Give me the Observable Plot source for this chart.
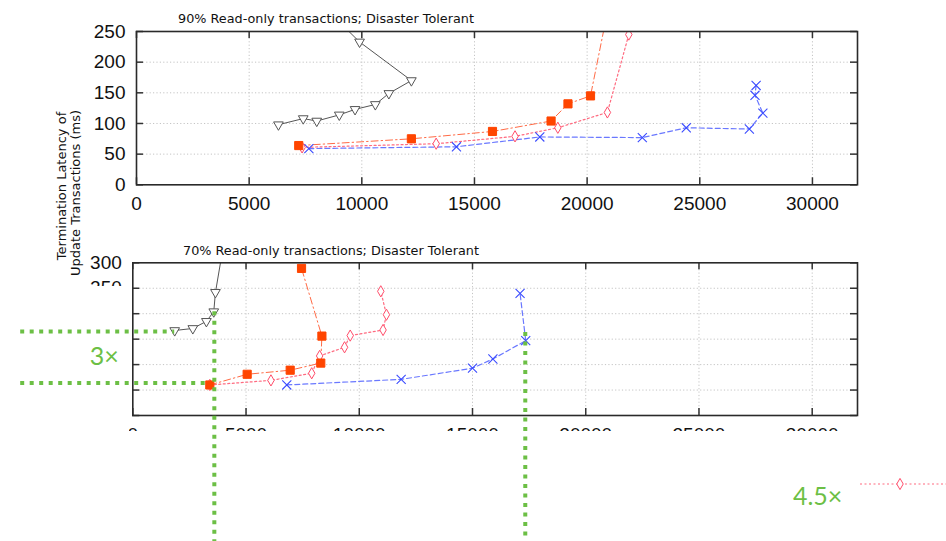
<!DOCTYPE html>
<html><head><meta charset="utf-8">
<script src="https://cdn.jsdelivr.net/npm/d3@7"></script>
<script src="https://cdn.jsdelivr.net/npm/@observablehq/plot@0.6"></script>
<style>
body{margin:0;background:#fff;}
#wrap{position:relative;width:946px;height:541px;overflow:hidden;background:#fff;}
#wrap > svg, #wrap > div {position:absolute;left:0;}
</style></head><body><div id="wrap"></div>
<script>
// ---------- data ----------
const xTicks = [0, 5000, 10000, 15000, 20000, 25000, 30000];
const yTicksTop = [0, 50, 100, 150, 200, 250];
const yTicksBottom = [0, 50, 100, 150, 200, 250, 300];
const yLabelsBottom = [250, 300]; // the other labels of the lower panel are hidden in the source
const titleTop = "90% Read-only transactions; Disaster Tolerant";
const titleBottom = "70% Read-only transactions; Disaster Tolerant";
const yTitle1 = "Termination Latency of";
const yTitle2 = "Update Transactions (ms)";

// 90% read-only panel
const t90_black_x = [6300, 7400, 8000, 9000, 9700, 10600, 11200, 12200, 9900, 8600];
const t90_black_y = [98, 108, 104, 114, 123, 131, 149, 170, 233, 280];
const t90_red_x   = [7200, 12200, 15800, 18400, 19150, 20150, 21000];
const t90_red_y   = [64, 75, 87, 104, 132, 145, 300];
const t90_pink_x  = [7350, 13300, 16800, 18700, 20900, 21850];
const t90_pink_y  = [61, 67, 79, 93, 118, 245];
const t90_blue_x  = [7650, 14200, 17900, 22450, 24400, 27200, 27800, 27450, 27500];
const t90_blue_y  = [59, 62, 78, 77, 93, 91, 117, 146, 162];

// 70% read-only panel
const t70_black_x = [1850, 2650, 3250, 3575, 3650, 4100];
const t70_black_y = [167, 171, 185, 204, 242, 360];
const t70_red_x   = [3400, 5050, 6950, 8300, 8350, 7450];
const t70_red_y   = [60, 81, 89, 103, 156, 289];
const t70_pink_x  = [3400, 6100, 7900, 8250, 9350, 9600, 11050, 11200, 10950];
const t70_pink_y  = [60, 69, 83, 117, 134, 157, 168, 198, 244];
const t70_blue_x  = [6800, 11850, 15000, 15900, 17350, 17100];
const t70_blue_y  = [60, 71, 93, 111, 147, 240];

// annotation (in 70% panel data units)
const annoLevelY = [165, 64];
const annoLevelX1 = [1850, 3400];
const annoLevelX0 = -4950;
const annoDropX = [3600, 17330];
const annoDropY1 = [204, 163];
const annoDropY2 = -250;
const annoLabels = ["3×", "4.5×"];
const annoLabelX = [-1260, 30240];
const annoLabelY = [114.5, -161];

// ---------- styles ----------
const styles = {
  black: {line: {stroke: "#555", strokeWidth: 1}, dot: {symbol: "triangle", rotate: 180, r: 3.6, stroke: "#555", fill: "white", strokeWidth: 1}},
  red:   {line: {stroke: "#ff6a45", strokeWidth: 1, strokeDasharray: "7,3,1.5,3"}, dot: {symbol: "square", r: 4.6, stroke: "#ff4500", fill: "#ff4500", strokeWidth: 1}},
  pink:  {line: {stroke: "#ff6b80", strokeWidth: 1.2, strokeDasharray: "2,2.5"}, dot: {symbol: "diamond", r: 3.4, stroke: "#ff4d6a", fill: "white", strokeWidth: 1}},
  blue:  {line: {stroke: "#6a78ff", strokeWidth: 1.2, strokeDasharray: "5,3"}, dot: {symbol: "times", r: 4.2, stroke: "#3b4cff", strokeWidth: 1.1}}
};
const lineOrder = ["black", "red", "pink", "blue"];
const dotOrder = ["black", "blue", "pink", "red"];
const zip = (xs, ys) => xs.map((x, i) => ({x, y: ys[i]}));

function panel({height, ml, mr, mt, mb, yMax, yTicks, yLabels, series}) {
  const W = 946 - ml - mr, H = height - mt - mb;
  const marks = [
    Plot.ruleX(xTicks.filter(d => d > 0), {x: d => d, stroke: "#c4c4c4", strokeDasharray: "1.2,2.2", strokeWidth: 1}),
    Plot.ruleY(yTicks.filter(d => d > 0 && d < yMax), {y: d => d, stroke: "#c4c4c4", strokeDasharray: "1.2,2.2", strokeWidth: 1})
  ];
  for (const name of lineOrder) {
    marks.push(Plot.line(series[name], {x: "x", y: "y", clip: true, ...styles[name].line}));
  }
  for (const name of dotOrder) {
    marks.push(Plot.dot(series[name].filter(d => d.y <= yMax), {x: "x", y: "y", clip: true, ...styles[name].dot}));
  }
  const tk = {stroke: "#333", strokeWidth: 1.5};
  marks.push(
    Plot.tickX(xTicks, {x: d => d, insetTop: H - 7, ...tk}),
    Plot.tickX(xTicks, {x: d => d, insetBottom: H - 7, ...tk}),
    Plot.tickY(yTicks, {y: d => d, insetRight: W - 7, ...tk}),
    Plot.tickY(yTicks, {y: d => d, insetLeft: W - 7, ...tk}),
    Plot.frame({stroke: "#2a2a2a", strokeWidth: 1.6}),
    Plot.axisX(xTicks, {tickSize: 0, tickPadding: 12, tickFormat: "d", fontSize: 19, fill: "#111", label: null}),
    Plot.axisY(yLabels, {tickSize: 0, tickPadding: 11, tickFormat: "d", fontSize: 19, fill: "#111", label: null})
  );
  return Plot.plot({
    width: 946, height,
    marginLeft: ml, marginRight: mr, marginTop: mt, marginBottom: mb,
    x: {domain: [0, 32000]},
    y: {domain: [0, yMax]},
    style: {fontFamily: "'Liberation Sans', Arial, sans-serif", background: "white"},
    marks
  });
}

const wrap = document.getElementById("wrap");

const topPlot = panel({
  height: 230, ml: 136, mr: 89, mt: 31, mb: 45.7, yMax: 250, yTicks: yTicksTop, yLabels: yTicksTop,
  series: {black: zip(t90_black_x, t90_black_y), red: zip(t90_red_x, t90_red_y), pink: zip(t90_pink_x, t90_pink_y), blue: zip(t90_blue_x, t90_blue_y)}
});
topPlot.style.top = "0px";
wrap.appendChild(topPlot);

const botOpts = {height: 311, ml: 132.3, mr: 89, mt: 32.3, mb: 126};
const botPlot = panel({
  ...botOpts, yMax: 300, yTicks: yTicksBottom, yLabels: yLabelsBottom,
  series: {black: zip(t70_black_x, t70_black_y), red: zip(t70_red_x, t70_red_y), pink: zip(t70_pink_x, t70_pink_y), blue: zip(t70_blue_x, t70_blue_y)}
});
botPlot.style.top = "230px";
wrap.appendChild(botPlot);
// white masks that cover part of the lower panel's tick labels (as in the source image)
const bsel = d3.select(botPlot);
bsel.append("rect").attr("x", 0).attr("y", 56).attr("width", 129).attr("height", 255).attr("fill", "white");
bsel.append("rect").attr("x", 0).attr("y", 201).attr("width", 946).attr("height", 110).attr("fill", "white");

// green annotation overlay, same scales as lower panel
const green = "#6cbf45";
const overlay = Plot.plot({
  width: 946, height: botOpts.height,
  marginLeft: botOpts.ml, marginRight: botOpts.mr, marginTop: botOpts.mt, marginBottom: botOpts.mb,
  x: {domain: [0, 32000], axis: null},
  y: {domain: [0, 300], axis: null},
  style: {background: "transparent", overflow: "visible"},
  marks: [
    Plot.ruleY(annoLevelY.map((y, i) => ({y, x2: annoLevelX1[i]})), {y: "y", x1: () => annoLevelX0, x2: "x2", stroke: green, strokeWidth: 4, strokeDasharray: "4,5.5"}),
    Plot.ruleX(annoDropX.map((x, i) => ({x, y1: annoDropY1[i]})), {x: "x", y1: "y1", y2: () => annoDropY2, stroke: green, strokeWidth: 4, strokeDasharray: "4,5.5"}),
    Plot.text(annoLabels.map((t, i) => ({t, x: annoLabelX[i], y: annoLabelY[i]})), {x: "x", y: "y", text: "t", fill: green, fontSize: 25, fontFamily: "Lato, 'Open Sans', sans-serif", fontWeight: 400})
  ]
});
overlay.style.top = "230px";
overlay.style.pointerEvents = "none";
wrap.appendChild(overlay);

// titles, y-axis title and legend fragment
const tsvg = d3.create("svg").attr("width", 946).attr("height", 541).style("top", "0px").style("pointer-events", "none")
  .style("font-family", "'DejaVu Sans', sans-serif");
tsvg.append("text").attr("x", 178).attr("y", 22.5).attr("font-size", 12.8).attr("fill", "#111").text(titleTop);
tsvg.append("text").attr("x", 183).attr("y", 255).attr("font-size", 12.8).attr("fill", "#111").text(titleBottom);
tsvg.append("text").attr("transform", "translate(66,186) rotate(-90)").attr("text-anchor", "middle").attr("font-size", 13).attr("fill", "#111").text(yTitle1);
tsvg.append("text").attr("transform", "translate(80,193) rotate(-90)").attr("text-anchor", "middle").attr("font-size", 13).attr("fill", "#111").text(yTitle2);
// legend sample (label falls outside the picture)
const lg = tsvg.append("g").attr("transform", "translate(860,484)");
lg.append("line").attr("x1", 0).attr("x2", 90).attr("y1", 0).attr("y2", 0).attr("stroke", styles.pink.line.stroke).attr("stroke-width", 1.2).attr("stroke-dasharray", "2,2.5");
lg.append("path").attr("transform", "translate(40,0)").attr("d", d3.symbol(d3.symbolDiamond, Math.PI * 3.4 * 3.4)()).attr("fill", "white").attr("stroke", styles.pink.dot.stroke);
wrap.appendChild(tsvg.node());
</script></body></html>
